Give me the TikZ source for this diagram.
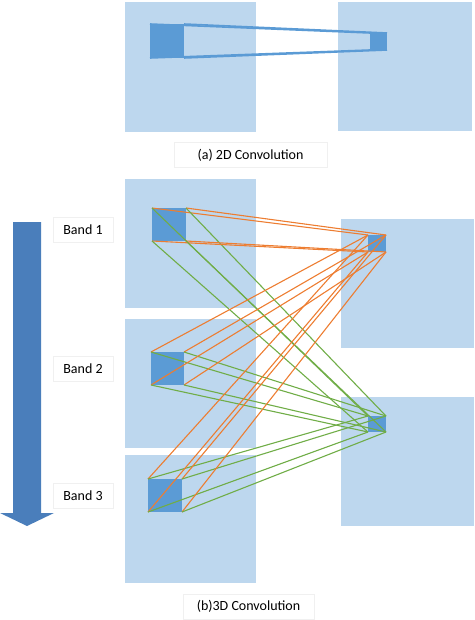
\documentclass[tikz,border=0pt]{standalone}
\usepackage{fontspec}
\setmainfont{Carlito}
\usepackage{tikz}
\usetikzlibrary{positioning,calc}

\definecolor{planeblue}{HTML}{BDD7EE}
\definecolor{kernelblue}{HTML}{5B9BD5}
\definecolor{arrowblue}{HTML}{4A7EBB}
\definecolor{toorange}{HTML}{ED7D31}
\definecolor{togreen}{HTML}{70AD47}

\begin{document}
\begin{tikzpicture}[
    x=1pt, y=-1pt,
    font=\fontsize{14}{16}\selectfont,
    plane/.style={rectangle, fill=planeblue, anchor=north west, inner sep=0pt, outer sep=0pt},
    kernel/.style={rectangle, fill=kernelblue, anchor=north west, inner sep=0pt, outer sep=0pt},
    tag/.style={rectangle, draw=gray!12, fill=white, line width=0.6pt, minimum width=60pt, minimum height=25pt, inner sep=0pt},
    caption/.style={rectangle, draw=gray!12, fill=white, line width=0.6pt, minimum height=25pt, inner sep=0pt},
    flat/.style={kernelblue, line width=1.6pt},
    orangeline/.style={toorange, line width=1.1pt},
    greenline/.style={togreen, line width=1.1pt}
]
\useasboundingbox (0,0) rectangle (474,620);

% (a) 2D convolution
\node[plane, minimum width=131pt, minimum height=130pt] (inA) at (125,2) {};
\node[plane, minimum width=134pt, minimum height=129pt] (outA) at (338,2) {};
\node[kernel, minimum width=34pt, minimum height=34pt] (kA) at (150,24) {};
\node[kernel, minimum width=17pt, minimum height=17pt] (pA) at (370,33) {};
\foreach \c in {north west, north east, south west, south east}
    \draw[flat] (kA.\c) -- (pA.\c);
\node[caption, minimum width=153pt] (capA) at (250.5,155) {(a) 2D Convolution};

% (b) 3D convolution: input bands
\node[plane, minimum width=131pt, minimum height=129pt] (band1) at (125,179) {};
\node[plane, minimum width=131pt, minimum height=129pt] (band2) at (125,319) {};
\node[plane, minimum width=131pt, minimum height=128pt] (band3) at (125,455) {};

% output maps
\node[plane, minimum width=133pt, minimum height=129pt] (out1) at (341,219) {};
\node[plane, minimum width=133pt, minimum height=129pt] (out2) at (341,397) {};

% kernels
\node[kernel, minimum width=34pt, minimum height=33pt] (k1) at (152,208) {};
\node[kernel, minimum width=33pt, minimum height=33pt] (k2) at (151,352) {};
\node[kernel, minimum width=34pt, minimum height=33pt] (k3) at (148,479) {};
\node[kernel, minimum width=18pt, minimum height=17pt] (p1) at (368,235) {};
\node[kernel, minimum width=18pt, minimum height=16pt] (p2) at (368,416) {};

% connections
\foreach \k in {k1,k2,k3}
    \foreach \c in {north west, north east, south west, south east} {
        \draw[orangeline] (\k.\c) -- (p1.\c);
        \draw[greenline] (\k.\c) -- (p2.\c);
    }

% band order
\fill[arrowblue] (13,222) -- (41,222) -- (41,513) -- (54,513) -- (27,526) -- (0,513) -- (13,513) -- cycle;
\node[tag] (tag1) at (83,229.5) {Band 1};
\node[tag] (tag2) at (83,368.5) {Band 2};
\node[tag] (tag3) at (83,496) {Band 3};

\node[caption, minimum width=131pt] (capB) at (248.5,606.5) {(b)3D Convolution};
\end{tikzpicture}
\end{document}
